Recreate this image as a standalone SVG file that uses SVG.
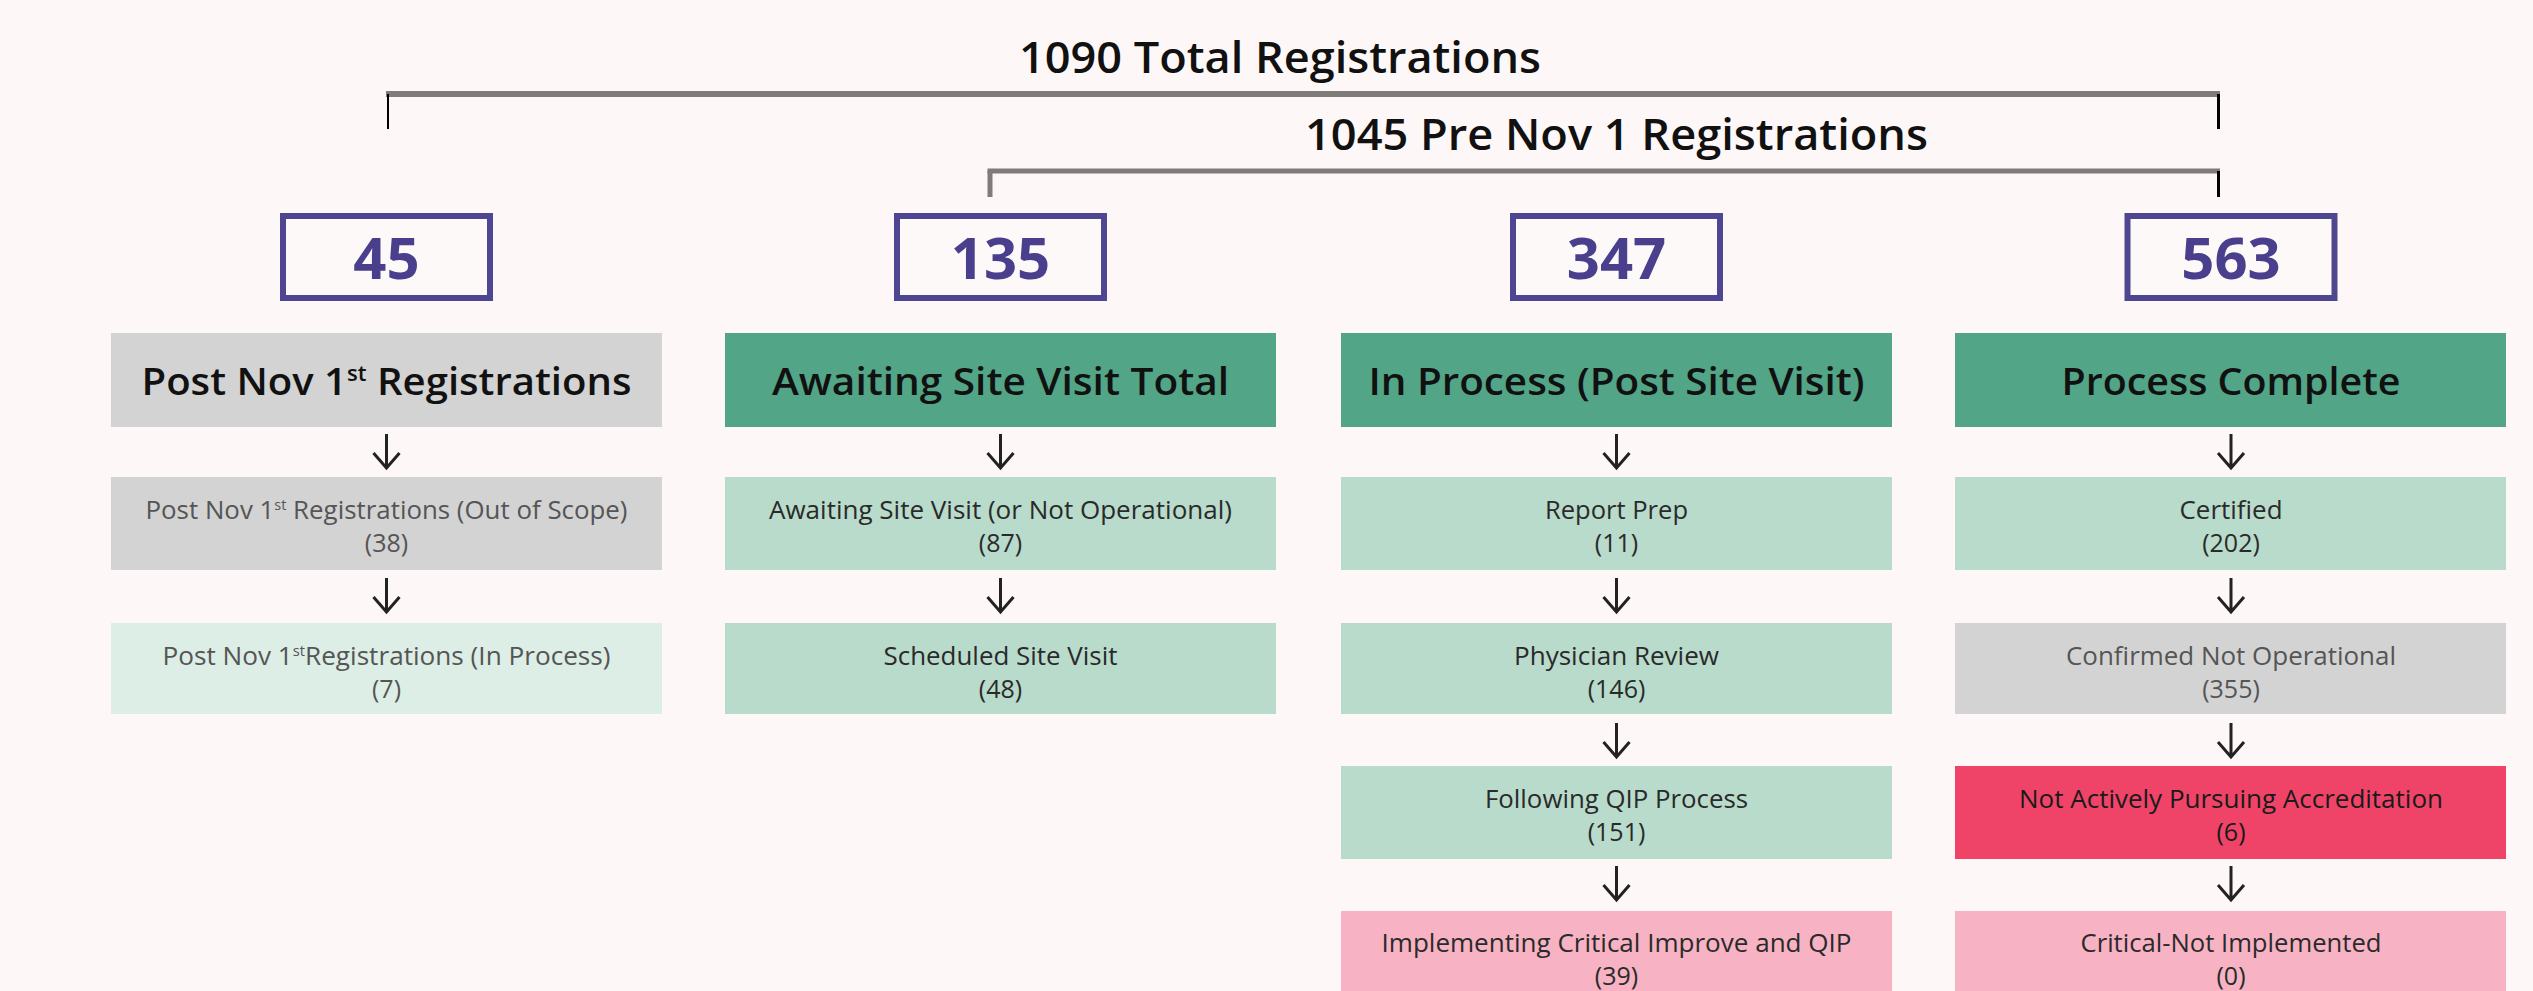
<svg xmlns="http://www.w3.org/2000/svg" width="2533" height="991" viewBox="0 0 2533 991">
<style>
text{font-family:"Open Sans","Liberation Sans",sans-serif;text-anchor:middle}
.title{font-size:44px;font-weight:600;fill:#111}
.num{font-size:58px;font-weight:700;fill:#4A3F8D}
.numbox{fill:#FEF9F9;stroke:#4E4690;stroke-width:6}
.head{font-size:38px;font-weight:600;fill:#111}
.sub{font-size:25px;fill:#2a2a2a}
.subg{font-size:25px;fill:#555}
.gray{fill:#D3D3D3}
.green{fill:#52A586}
.lgreen{fill:#B8DBCC}
.vlgreen{fill:#DCEEE6}
.red{fill:#EF4468}
.pink{fill:#F7B3C3}
.bar{stroke:#7F7B7B;fill:none}
.tick{stroke:#000;fill:none}
.arrow{stroke:#222;stroke-width:3;fill:none}
</style>
<defs>
<path id="arr" class="arrow" d="M0,0 V34 M-13,19 L0,34 L13,19"/>
</defs>
<rect width="2533" height="991" fill="#FDF8F7"/>

<g id="titles">
<text class="title" x="1280" y="73" textLength="522" lengthAdjust="spacingAndGlyphs">1090 Total Registrations</text>
<text class="title" x="1616.5" y="150" textLength="623" lengthAdjust="spacingAndGlyphs">1045 Pre Nov 1 Registrations</text>
</g>

<g id="connectors">
<line class="bar" x1="386" y1="94" x2="2220" y2="94" stroke-width="6"/>
<line class="tick" x1="388" y1="94" x2="388" y2="129" stroke-width="2"/>
<line class="tick" x1="2218.5" y1="94" x2="2218.5" y2="129" stroke-width="3"/>
<line class="bar" x1="987.5" y1="171" x2="2220" y2="171" stroke-width="5"/>
<line class="bar" x1="990" y1="171" x2="990" y2="197" stroke-width="5"/>
<line class="tick" x1="2218.5" y1="171" x2="2218.5" y2="197" stroke-width="3"/>
<use href="#arr" x="386.5" y="434"/>
<use href="#arr" x="386.5" y="578"/>
<use href="#arr" x="1000.5" y="434"/>
<use href="#arr" x="1000.5" y="578"/>
<use href="#arr" x="1616.5" y="434"/>
<use href="#arr" x="1616.5" y="578"/>
<use href="#arr" x="1616.5" y="723"/>
<use href="#arr" x="1616.5" y="866"/>
<use href="#arr" x="2231" y="434"/>
<use href="#arr" x="2231" y="578"/>
<use href="#arr" x="2231" y="723"/>
<use href="#arr" x="2231" y="866"/>
</g>

<g id="box45"><rect class="numbox" x="283" y="216" width="207" height="82"/><text class="num" x="386.5" y="279">45</text></g>
<g id="box135"><rect class="numbox" x="897" y="216" width="207" height="82"/><text class="num" x="1000.5" y="279">135</text></g>
<g id="box347"><rect class="numbox" x="1513" y="216" width="207" height="82"/><text class="num" x="1616.5" y="279">347</text></g>
<g id="box563"><rect class="numbox" x="2127.5" y="216" width="207" height="82"/><text class="num" x="2231" y="279">563</text></g>

<g id="head-post"><rect class="gray" x="111" y="333" width="551" height="94"/><text class="head" x="386.5" y="395" textLength="490" lengthAdjust="spacingAndGlyphs">Post Nov 1<tspan font-size="21" dy="-14">st</tspan><tspan dy="14"> Registrations</tspan></text></g>
<g id="head-awaiting"><rect class="green" x="725" y="333" width="551" height="94"/><text class="head" x="1000.5" y="395" textLength="457" lengthAdjust="spacingAndGlyphs">Awaiting Site Visit Total</text></g>
<g id="head-inprocess"><rect class="green" x="1341" y="333" width="551" height="94"/><text class="head" x="1616.5" y="395" textLength="496" lengthAdjust="spacingAndGlyphs">In Process (Post Site Visit)</text></g>
<g id="head-complete"><rect class="green" x="1955" y="333" width="551" height="94"/><text class="head" x="2231" y="395" textLength="339" lengthAdjust="spacingAndGlyphs">Process Complete</text></g>

<g id="post-out"><rect class="gray" x="111" y="477" width="551" height="93"/><text class="subg" x="386.5" y="519" textLength="482" lengthAdjust="spacingAndGlyphs">Post Nov 1<tspan font-size="14" dy="-9">st</tspan><tspan dy="9"> Registrations (Out of Scope)</tspan></text><text class="subg" x="386.5" y="552">(38)</text></g>
<g id="post-in"><rect class="vlgreen" x="111" y="623" width="551" height="91"/><text class="subg" x="386.5" y="665" textLength="448" lengthAdjust="spacingAndGlyphs">Post Nov 1<tspan font-size="14" dy="-9">st</tspan><tspan dy="9">Registrations (In Process)</tspan></text><text class="subg" x="386.5" y="698">(7)</text></g>

<g id="awaiting-visit"><rect class="lgreen" x="725" y="477" width="551" height="93"/><text class="sub" x="1000.5" y="519" textLength="463" lengthAdjust="spacingAndGlyphs">Awaiting Site Visit (or Not Operational)</text><text class="sub" x="1000.5" y="552">(87)</text></g>
<g id="scheduled"><rect class="lgreen" x="725" y="623" width="551" height="91"/><text class="sub" x="1000.5" y="665" textLength="234" lengthAdjust="spacingAndGlyphs">Scheduled Site Visit</text><text class="sub" x="1000.5" y="698">(48)</text></g>

<g id="report-prep"><rect class="lgreen" x="1341" y="477" width="551" height="93"/><text class="sub" x="1616.5" y="519" textLength="143" lengthAdjust="spacingAndGlyphs">Report Prep</text><text class="sub" x="1616.5" y="552">(11)</text></g>
<g id="physician"><rect class="lgreen" x="1341" y="623" width="551" height="91"/><text class="sub" x="1616.5" y="665" textLength="205" lengthAdjust="spacingAndGlyphs">Physician Review</text><text class="sub" x="1616.5" y="698">(146)</text></g>
<g id="qip"><rect class="lgreen" x="1341" y="766" width="551" height="93"/><text class="sub" x="1616.5" y="808" textLength="263" lengthAdjust="spacingAndGlyphs">Following QIP Process</text><text class="sub" x="1616.5" y="841">(151)</text></g>
<g id="implementing"><rect class="pink" x="1341" y="911" width="551" height="80"/><text class="sub" x="1616.5" y="952" textLength="470" lengthAdjust="spacingAndGlyphs">Implementing Critical Improve and QIP</text><text class="sub" x="1616.5" y="985">(39)</text></g>

<g id="certified"><rect class="lgreen" x="1955" y="477" width="551" height="93"/><text class="sub" x="2231" y="519" textLength="103" lengthAdjust="spacingAndGlyphs">Certified</text><text class="sub" x="2231" y="552">(202)</text></g>
<g id="not-operational"><rect class="gray" x="1955" y="623" width="551" height="91"/><text class="subg" x="2231" y="665" textLength="330" lengthAdjust="spacingAndGlyphs">Confirmed Not Operational</text><text class="subg" x="2231" y="698">(355)</text></g>
<g id="not-pursuing"><rect class="red" x="1955" y="766" width="551" height="93"/><text class="sub" x="2231" y="808" textLength="424" lengthAdjust="spacingAndGlyphs" style="fill:#1a1a1a">Not Actively Pursuing Accreditation</text><text class="sub" x="2231" y="841" style="fill:#1a1a1a">(6)</text></g>
<g id="critical"><rect class="pink" x="1955" y="911" width="551" height="80"/><text class="sub" x="2231" y="952" textLength="301" lengthAdjust="spacingAndGlyphs">Critical-Not Implemented</text><text class="sub" x="2231" y="985">(0)</text></g>
</svg>
